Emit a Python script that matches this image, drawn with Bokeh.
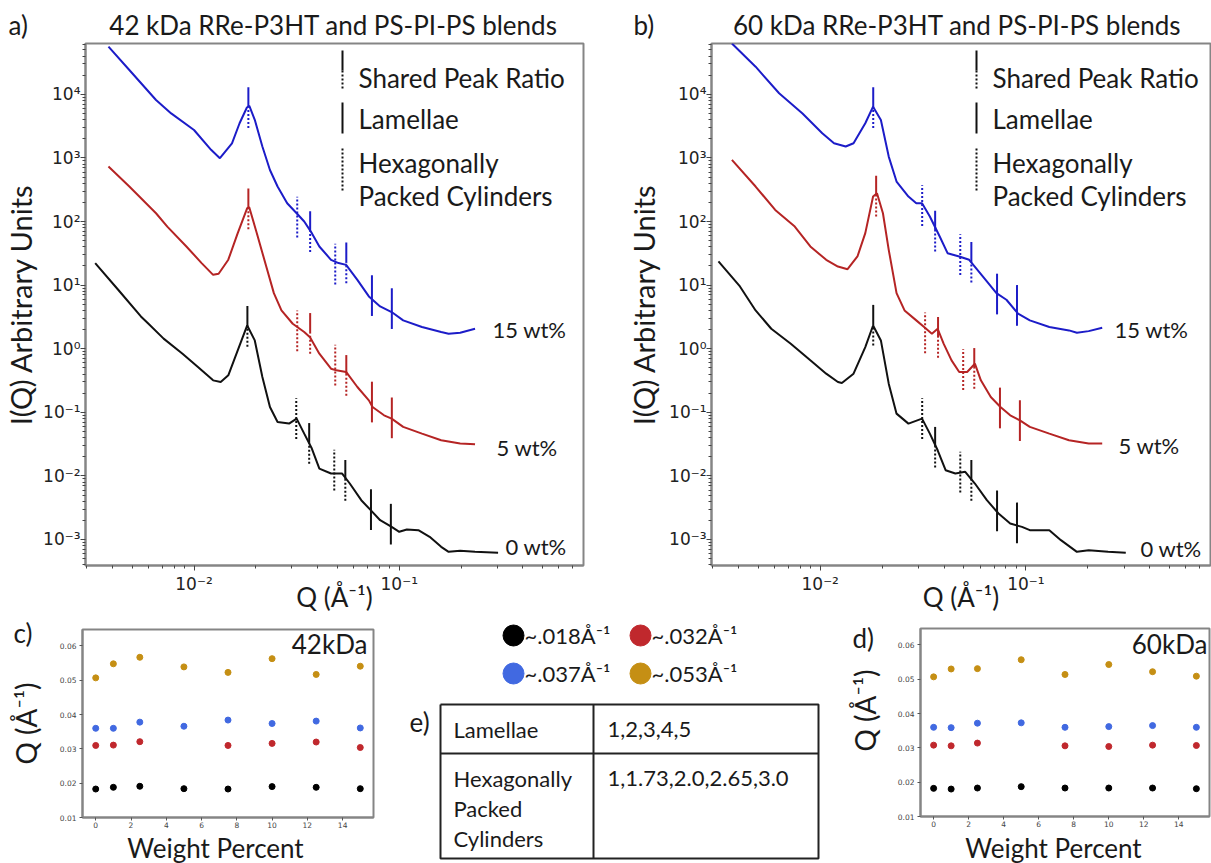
import math
from bokeh.plotting import figure
from bokeh.layouts import column, row
from bokeh.models import (Range1d, FixedTicker, CustomJSTickFormatter, Label, Arrow,
                          ColumnDataSource)
from bokeh.core.properties import value
from bokeh.embed import file_html
from bokeh.resources import INLINE

# ------------------------------------------------------------------ data
# panel a : 42 kDa  (q in 1/A, I arbitrary units)
a15_q = [0.00383, 0.00484, 0.00653, 0.00774, 0.0100, 0.01211, 0.01337, 0.01531, 0.01667, 0.0181, 0.0186,
         0.01977, 0.02153, 0.02344, 0.02553, 0.02844, 0.03162, 0.03443, 0.0375, 0.0408, 0.0465, 0.0506,
         0.0551, 0.0625, 0.0711, 0.0807, 0.0918, 0.1045, 0.129, 0.160, 0.174, 0.198, 0.234]
a15_I = [5.61e4, 2.41e4, 8.15e3, 5.01e3, 2.75e3, 1.34e3, 989, 1.70e3, 3.51e3, 6.2e3, 6.6e3,
         3.98e3, 1.51e3, 646, 355, 194, 135, 100, 65.6, 40.5, 25.0, 22.2,
         20.8, 12.1, 6.64, 4.62, 3.77, 2.79, 2.19, 1.83, 1.72, 1.78, 2.06]
a5_q = [0.00383, 0.00484, 0.00653, 0.00741, 0.00918, 0.01089, 0.01239, 0.01318, 0.01469, 0.01633, 0.01816,
        0.01858, 0.02023, 0.02249, 0.02449, 0.02667, 0.03027, 0.03443, 0.03673, 0.0408, 0.0465, 0.0494,
        0.0551, 0.0625, 0.0711, 0.0741, 0.0843, 0.0918, 0.1045, 0.129, 0.160, 0.198, 0.234]
a5_I = [731, 355, 135, 83.2, 40.5, 22.2, 14.5, 15.1, 25.1, 65.6, 162,
        168, 65.6, 19.6, 7.48, 4.0, 2.47, 1.83, 1.52, 0.834, 0.485, 0.457,
        0.431, 0.25, 0.154, 0.121, 0.0897, 0.0796, 0.0589, 0.0462, 0.0363, 0.0322, 0.0314]
a0_q = [0.00330, 0.00427, 0.00551, 0.00600, 0.00711, 0.00879, 0.01045, 0.01239, 0.01349, 0.01469, 0.01633,
        0.01816, 0.01977, 0.02153, 0.02344, 0.02553, 0.02904, 0.03162, 0.03443, 0.0375, 0.0408, 0.0465,
        0.0527, 0.0574, 0.0653, 0.0726, 0.0807, 0.0918, 0.100, 0.1089, 0.1239, 0.1406, 0.160, 0.174,
        0.198, 0.234, 0.303]
a0_I = [22.2, 8.45, 3.22, 2.47, 1.44, 0.834, 0.515, 0.318, 0.299, 0.381, 0.942,
        2.32, 1.35, 0.359, 0.121, 0.0705, 0.0664, 0.0796, 0.0462, 0.0269, 0.0130, 0.0109,
        0.0109, 0.00759, 0.00415, 0.00289, 0.00201, 0.00158, 0.00132, 0.00144, 0.00140, 0.00110, 0.000767, 0.00064,
        0.000664, 0.00064, 0.000617]

# panel b : 60 kDa
b15_q = [0.00372, 0.00485, 0.00631, 0.00820, 0.01023, 0.01167, 0.0133, 0.01452, 0.01656, 0.01807, 0.01972,
         0.02153, 0.0235, 0.02685, 0.02931, 0.03126, 0.03412, 0.0381, 0.0416, 0.0474, 0.0530, 0.0617,
         0.0719, 0.0804, 0.0916, 0.1045, 0.130, 0.162, 0.177, 0.202, 0.235]
b15_I = [6.31e4, 2.72e4, 1.04e4, 5.01e3, 2.44e3, 1.70e3, 1.51e3, 1.70e3, 3.51e3, 6.40e3, 3.95e3,
         1.05e3, 425, 247, 194, 194, 120, 58.1, 31.8, 28.2, 25.0, 13.7,
         7.48, 5.89, 3.55, 2.79, 2.19, 1.94, 1.78, 1.89, 2.14]
b5_q = [0.00372, 0.00485, 0.00604, 0.00752, 0.00895, 0.01069, 0.01219, 0.01358, 0.01517, 0.01656, 0.01807,
        0.01888, 0.02018, 0.02153, 0.0235, 0.0257, 0.02931, 0.03199, 0.03491, 0.03724, 0.0398, 0.0435,
        0.0474, 0.0518, 0.0565, 0.0604, 0.0675, 0.0752, 0.0839, 0.0935, 0.1045, 0.130, 0.162, 0.202, 0.235]
b5_I = [931, 355, 152, 83.2, 40.5, 25.0, 19.6, 17.8, 28.2, 65.6, 247,
        279, 135, 35.9, 7.48, 4.0, 2.79, 2.19, 1.72, 2.06, 1.20, 0.656,
        0.431, 0.431, 0.581, 0.318, 0.174, 0.121, 0.0897, 0.0748, 0.0589, 0.0462, 0.0363, 0.0322, 0.0322]
b0_q = [0.00320, 0.00407, 0.00485, 0.00578, 0.00719, 0.00895, 0.01069, 0.01219, 0.01274, 0.01452, 0.01656,
        0.01807, 0.01972, 0.02153, 0.0235, 0.02685, 0.03126, 0.03412, 0.03724, 0.0407, 0.0454, 0.0507,
        0.0565, 0.0646, 0.0736, 0.0839, 0.0957, 0.1045, 0.130, 0.148, 0.177, 0.202, 0.251, 0.306]
b0_I = [23.6, 9.53, 4.0, 2.06, 1.20, 0.656, 0.405, 0.299, 0.289, 0.405, 1.06,
        2.32, 1.35, 0.282, 0.0953, 0.0664, 0.0796, 0.0462, 0.0253, 0.0123, 0.0109, 0.0116,
        0.00759, 0.00415, 0.00256, 0.00178, 0.00158, 0.00140, 0.00140, 0.000977, 0.00064, 0.000679, 0.00064, 0.000617]

# peak markers: ratios to the first peak and their kind
peak_ratios = [1.0, 1.73, 2.0, 2.65, 3.0, 4.0, 5.0]
peak_kinds = ["shared", "hex", "shared", "hex", "shared", "lam", "lam"]
a15_q1, a5_q1, a0_q1 = 0.0184, 0.0184, 0.0182
b15_q1, b5_q1, b0_q1 = 0.0181, 0.0187, 0.0181
a15_peakI = [6.2e3, 117, 69.2, 21.4, 22.4, 6.84, 4.27]
a5_peakI = [158, 1.91, 1.74, 0.55, 0.38, 0.145, 0.0818]
a0_peakI = [2.24, 0.0794, 0.0324, 0.0123, 0.00851, 0.00295, 0.00174]
b15_peakI = [6.2e3, 178, 70.8, 30.2, 22.9, 7.24, 4.79]
b5_peakI = [251, 1.78, 1.51, 0.468, 0.49, 0.117, 0.0741]
b0_peakI = [2.34, 0.0794, 0.0282, 0.0115, 0.00851, 0.00282, 0.00182]

series_labels = ["15 wt%", "5 wt%", "0 wt%"]

# panels c, d : peak positions vs weight percent
wt = [0, 1, 2.5, 5, 7.5, 10, 12.5, 15]
wt_032 = [0, 1, 2.5, 7.5, 10, 12.5, 15]
c_018 = [0.0183, 0.0188, 0.0191, 0.0184, 0.0183, 0.0190, 0.0188, 0.0184]
c_032 = [0.0310, 0.0311, 0.0321, 0.0310, 0.0316, 0.0320, 0.0304]
c_037 = [0.0360, 0.0360, 0.0378, 0.0366, 0.0384, 0.0374, 0.0381, 0.0361]
c_053 = [0.0507, 0.0548, 0.0567, 0.0539, 0.0523, 0.0563, 0.0517, 0.0541]
d_018 = [0.0182, 0.0180, 0.0183, 0.0187, 0.0183, 0.0183, 0.0183, 0.0181]
d_032 = [0.0308, 0.0306, 0.0314, 0.0306, 0.0304, 0.0308, 0.0307]
d_037 = [0.0360, 0.0359, 0.0372, 0.0373, 0.0360, 0.0362, 0.0365, 0.0360]
d_053 = [0.0507, 0.0530, 0.0531, 0.0557, 0.0514, 0.0543, 0.0522, 0.0509]
legend_labels = ["~.018Å⁻¹", "~.032Å⁻¹", "~.037Å⁻¹", "~.053Å⁻¹"]

table_names = [["Lamellae"], ["Hexagonally", "Packed", "Cylinders"]]
table_ratios = ["1,2,3,4,5", "1,1.73,2.0,2.65,3.0"]

titles = ["42 kDa RRe-P3HT and PS-PI-PS blends", "60 kDa RRe-P3HT  and PS-PI-PS blends"]

# ------------------------------------------------------------------ style
FONT = "Lato"
TFONT = "DejaVu Sans"
TXT = "#1a1a1a"
GRAY = "#858585"
BLUE, RED, BLACK = "#1c1cc8", "#b52424", "#111111"
DOT_COLORS = ["#000000", "#c0282d", "#4169e1", "#c58f14"]

HEAD_H, TOP_H, BOT_H = 41, 574, 248
QRANGE = (0.00296, 0.79)
IRANGE = (3.9e-4, 6.3e4)
HALF = 10 ** 0.32

POW_FMT = CustomJSTickFormatter(code=r"""
const e = Math.round(Math.log10(tick));
const m = {"-": "\u207b", "0": "\u2070", "1": "\u00b9", "2": "\u00b2", "3": "\u00b3",
           "4": "\u2074", "5": "\u2075", "6": "\u2076", "7": "\u2077", "8": "\u2078", "9": "\u2079"};
return "10" + String(e).split("").map(c => m[c]).join("");
""")


def canvas(w, h, x0, y0):
    """text-only strip in page-pixel coordinates"""
    p = figure(width=w, height=h, x_range=Range1d(x0, x0 + w), y_range=Range1d(y0 + h, y0),
               output_backend="svg", toolbar_location=None, min_border=0,
               x_axis_location=None, y_axis_location=None, outline_line_color=None)
    p.grid.visible = False
    return p


def ptext(p, x, y, t, size, align="left", angle=0.0):
    p.text(x=[x], y=[y], text=[t], angle=angle, text_align=align, text_baseline="middle",
           text_font=value(FONT), text_font_size=value(f"{size}px"), text_color=TXT)


def lab(p, x, y, text, size, align="left"):
    p.add_layout(Label(x=x, y=y, x_units="screen", y_units="screen", text=text,
                       text_font=FONT, text_font_size=f"{size}px", text_color=TXT,
                       text_align=align, text_baseline="middle"))


def vline(p, x, y0, y1, dash="solid"):
    p.add_layout(Arrow(x_start=x, y_start=y0, x_end=x, y_end=y1, start_units="screen",
                       end_units="screen", start=None, end=None, line_color=BLACK,
                       line_width=2, line_dash=dash))


def saxs_panel(width, bl, br, curves, peaks, leg_x, lab_pos):
    bt, bb = 2, 50
    p = figure(width=width, height=TOP_H, x_axis_type="log", y_axis_type="log",
               x_range=Range1d(*QRANGE), y_range=Range1d(*IRANGE),
               output_backend="svg", toolbar_location=None,
               min_border_left=bl, min_border_right=br, min_border_top=bt, min_border_bottom=bb)
    p.grid.visible = False
    p.outline_line_color = GRAY
    p.outline_line_width = 2
    p.xaxis.ticker = FixedTicker(ticks=[0.01, 0.1],
                                 minor_ticks=[k * 10.0 ** e for e in (-3, -2, -1) for k in range(2, 10)])
    p.yaxis.ticker = FixedTicker(ticks=[10.0 ** e for e in range(-3, 5)],
                                 minor_ticks=[k * 10.0 ** e for e in range(-4, 5) for k in range(2, 10)])
    for ax in (p.xaxis[0], p.yaxis[0]):
        ax.formatter = POW_FMT
        ax.axis_line_color = GRAY
        ax.axis_line_width = 2
        ax.major_tick_line_color = "#444444"
        ax.minor_tick_line_color = "#444444"
        ax.major_tick_out, ax.major_tick_in = 5, 0
        ax.minor_tick_out, ax.minor_tick_in = 3, 0
        ax.major_label_text_font = TFONT
        ax.major_label_text_font_size = "17px"
        ax.major_label_text_color = "#222222"
    p.xaxis.major_label_standoff = 3
    p.yaxis.major_label_standoff = 0
    p.xaxis.axis_label = "Q (Å⁻¹)"
    p.xaxis.axis_label_standoff = -16
    p.xaxis.axis_label_text_font = FONT
    p.xaxis.axis_label_text_font_size = "26px"
    p.xaxis.axis_label_text_font_style = "normal"
    p.xaxis.axis_label_text_color = TXT

    for q, I, color in curves:
        p.line(q, I, line_color=color, line_width=2)

    for q1, centers, color in peaks:
        sol = dict(x0=[], y0=[], x1=[], y1=[])
        dot = dict(x0=[], y0=[], x1=[], y1=[])
        for r, kind, c in zip(peak_ratios, peak_kinds, centers):
            q = q1 * r
            if kind == "shared":
                parts = [(sol, c, c * HALF), (dot, c / HALF, c)]
            elif kind == "hex":
                parts = [(dot, c / HALF, c * HALF)]
            else:
                parts = [(sol, c / HALF, c * HALF)]
            for d, lo, hi in parts:
                d["x0"].append(q); d["x1"].append(q); d["y0"].append(lo); d["y1"].append(hi)
        p.segment(x0="x0", y0="y0", x1="x1", y1="y1", source=ColumnDataSource(sol),
                  line_color=color, line_width=2)
        p.segment(x0="x0", y0="y0", x1="x1", y1="y1", source=ColumnDataSource(dot),
                  line_color=color, line_width=2, line_dash="2 2")

    # peak-type key (frame-relative screen units)
    vline(p, leg_x, 515, 495)
    vline(p, leg_x, 495, 475, "2 2")
    vline(p, leg_x, 463, 432)
    vline(p, leg_x, 417, 373, "2 2")
    tx = leg_x + 16
    lab(p, tx, 488, "Shared Peak Ratio", 26)
    lab(p, tx, 447, "Lamellae", 26)
    lab(p, tx, 403, "Hexagonally", 26)
    lab(p, tx, 370, "Packed Cylinders", 26)
    for (x, y), t in zip(lab_pos, series_labels):
        lab(p, x, y, t, 22)
    return p


def scatter_panel(width, height, bl, br, bt, bb, ys, tag, tag_pos):
    p = figure(width=width, height=height, x_range=Range1d(-0.75, 15.75), y_range=Range1d(0.01, 0.0648),
               output_backend="svg", toolbar_location=None,
               min_border_left=bl, min_border_right=br, min_border_top=bt, min_border_bottom=bb)
    p.grid.visible = False
    p.outline_line_color = GRAY
    p.outline_line_width = 2
    p.xaxis.ticker = FixedTicker(ticks=list(range(0, 15, 2)))
    p.yaxis.ticker = FixedTicker(ticks=[0.01, 0.02, 0.03, 0.04, 0.05, 0.06])
    for ax in (p.xaxis[0], p.yaxis[0]):
        ax.axis_line_color = GRAY
        ax.axis_line_width = 2
        ax.major_tick_line_color = "#555555"
        ax.major_tick_out, ax.major_tick_in = 3, 0
        ax.minor_tick_out, ax.minor_tick_in = 0, 0
        ax.major_label_text_font = TFONT
        ax.major_label_text_font_size = "7.5px"
        ax.major_label_text_color = "#444444"
    p.xaxis.major_label_standoff = 1
    p.yaxis.major_label_standoff = 3
    for (xs, yv), col in zip(ys, DOT_COLORS):
        p.scatter(xs, yv, size=6, color=col)
    lab(p, tag_pos[0], tag_pos[1], tag, 26, align="right")
    return p


# header with panel letters and titles
head = canvas(1211, HEAD_H, 0, 0)
ptext(head, 8, 24, "a)", 26)
ptext(head, 333, 24, titles[0], 26, align="center")
ptext(head, 633, 24, "b)", 26)
ptext(head, 960, 24, titles[1], 26, align="center")

# top row: y-label strips + log-log panels
sa = canvas(40, TOP_H, 0, HEAD_H)
ptext(sa, 20, 304, "I(Q) Arbitrary Units", 29, align="center", angle=math.pi / 2)
pa = saxs_panel(570, 43, 27,
                [(a15_q, a15_I, BLUE), (a5_q, a5_I, RED), (a0_q, a0_I, BLACK)],
                [(a15_q1, a15_peakI, BLUE), (a5_q1, a5_peakI, RED), (a0_q1, a0_peakI, BLACK)],
                257, [(407, 236), (411, 118), (420, 19)])
sb = canvas(52, TOP_H, 610, HEAD_H)
ptext(sb, 643, 304, "I(Q) Arbitrary Units", 29, align="center", angle=math.pi / 2)
pb = saxs_panel(549, 49, 1,
                [(b15_q, b15_I, BLUE), (b5_q, b5_I, RED), (b0_q, b0_I, BLACK)],
                [(b15_q1, b15_peakI, BLUE), (b5_q1, b5_peakI, RED), (b0_q1, b0_peakI, BLACK)],
                265, [(403, 236), (407, 120), (429, 17)])

# bottom row
Y0 = HEAD_H + TOP_H
sc = canvas(50, BOT_H, 0, Y0)
ptext(sc, 13, 632, "c)", 26)
ptext(sc, 25, 723, "Q (Å⁻¹)", 28, align="center", angle=math.pi / 2)
pc = scatter_panel(350, 215, 32, 27, 14, 13,
                   [(wt, c_018), (wt_032, c_032), (wt, c_037), (wt, c_053)],
                   "42kDa", (285, 174))
fc = canvas(350, BOT_H - 215, 50, Y0 + 215)
ptext(fc, 215, 847, "Weight Percent", 26, align="center")

pm = canvas(445, BOT_H, 400, Y0)
key_x, key_y = [513, 640, 513, 640], [635, 635, 673, 673]
pm.scatter(key_x, key_y, size=21, color=DOT_COLORS)
for x, y, t in zip(key_x, key_y, legend_labels):
    ptext(pm, x + 11, y, t, 22)
T_L, T_R, T_T, T_B, T_MID, T_COL = 440, 818, 704, 858, 753, 593
pm.multi_line(xs=[[T_L, T_R, T_R, T_L, T_L], [T_L, T_R], [T_COL, T_COL]],
              ys=[[T_T, T_T, T_B, T_B, T_T], [T_MID, T_MID], [T_T, T_B]],
              line_color="#222222", line_width=2)
for top, names, ratio in zip([T_T, T_MID], table_names, table_ratios):
    for i, n in enumerate(names):
        ptext(pm, T_L + 13, top + 25 + 30 * i, n, 22)
    ptext(pm, T_COL + 14, top + 25, ratio, 22)
ptext(pm, 409, 721, "e)", 26)

sd = canvas(45, BOT_H, 845, Y0)
ptext(sd, 852, 637, "d)", 26)
ptext(sd, 864, 710, "Q (Å⁻¹)", 28, align="center", angle=math.pi / 2)
pd = scatter_panel(321, 214, 30, 2, 13, 13,
                   [(wt, d_018), (wt_032, d_032), (wt, d_037), (wt, d_053)],
                   "60kDa", (287, 173))
fd = canvas(321, BOT_H - 214, 890, Y0 + 214)
ptext(fd, 1053, 847, "Weight Percent", 26, align="center")

layout = column(
    head,
    row(column(sa), column(pa), column(sb), column(pb)),
    row(column(sc), column(column(pc), column(fc)), column(pm), column(sd),
        column(column(pd), column(fd))),
)
open("out.html", "w", encoding="utf-8").write(file_html(layout, INLINE))
